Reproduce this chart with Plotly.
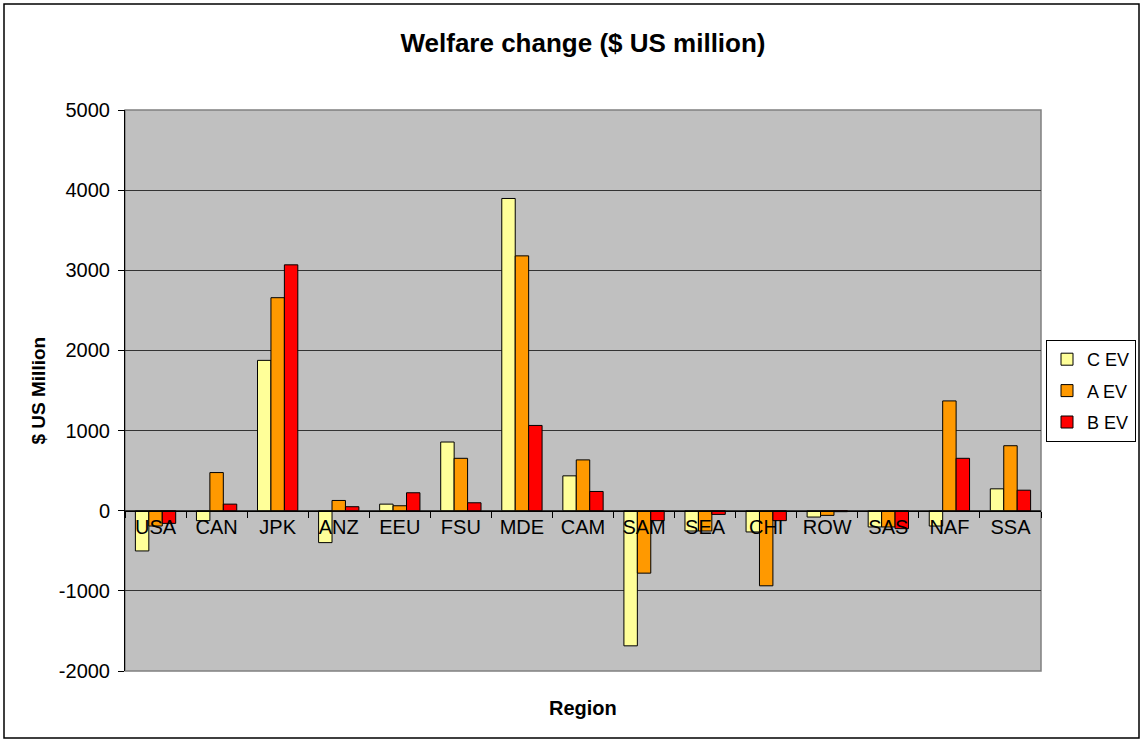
import plotly.graph_objects as go

regions = ["USA", "CAN", "JPK", "ANZ", "EEU", "FSU", "MDE", "CAM",
           "SAM", "SEA", "CHI", "ROW", "SAS", "NAF", "SSA"]
c_ev = [-502, -124, 1876, -398, 82, 857, 3896, 435,
        -1686, -253, -265, -79, -203, -191, 273]
a_ev = [-191, 476, 2658, 128, 62, 654, 3180, 634,
        -779, -253, -937, -58, -203, 1370, 811]
b_ev = [-158, 82, 3068, 50, 224, 99, 1064, 240,
        -124, -46, -124, -12, -224, 654, 256]
y_ticks = [-2000, -1000, 0, 1000, 2000, 3000, 4000, 5000]

series = [("C EV", c_ev, "#FFFF99"), ("A EV", a_ev, "#FF9900"), ("B EV", b_ev, "#FF0000")]

W, H = 1143, 742
L, R, T, B = 125, 102, 110, 71
y_min, y_max = y_ticks[0], y_ticks[-1]

fig = go.Figure()
for name, vals, col in series:
    fig.add_trace(go.Bar(
        x=regions, y=vals, name=name, legendgroup=name,
        marker=dict(color=col, line=dict(color="#000000", width=1)),
    ))

pw, ph = W - L - R, H - T - B
zero_pos = (0 - y_min) / (y_max - y_min)

fig.update_layout(
    width=W, height=H,
    margin=dict(l=L, r=R, t=T, b=B, autoexpand=False),
    paper_bgcolor="white",
    plot_bgcolor="#C0C0C0",
    barmode="group", bargap=0.34, bargroupgap=0,
    font=dict(family="Liberation Sans, Arial, sans-serif", size=20, color="#000000"),
    title=dict(text="<b>Welfare change ($ US million)</b>", x=(125 + 1041) / 2 / W,
               xanchor="center", y=1 - 43 / H, yanchor="middle", font=dict(size=26)),
    xaxis=dict(
        anchor="free", position=zero_pos, layer="above traces",
        showline=True, linecolor="#000000", linewidth=1,
        ticks="outside", ticklen=6, tickcolor="#000000", tickson="boundaries",
        showgrid=False, tickfont=dict(size=20), ticklabelstandoff=-2,
        range=[-0.5, len(regions) - 0.5],
    ),
    yaxis=dict(
        range=[y_min, y_max], tickvals=y_ticks, ticktext=[str(v) for v in y_ticks],
        showline=True, linecolor="#000000", linewidth=1,
        ticks="outside", ticklen=6, tickcolor="#000000", ticklabelstandoff=4,
        showgrid=True, gridcolor="#333333", gridwidth=1,
        zeroline=False, tickfont=dict(size=20),
    ),
    legend=dict(
        x=(1046 - L) / pw, xanchor="left", y=(H - B - 391) / ph, yanchor="middle",
        bgcolor="white", bordercolor="#000000", borderwidth=1,
        font=dict(size=18), itemwidth=30, tracegroupgap=5,
    ),
    showlegend=True,
)

# axis titles
fig.add_annotation(text="<b>Region</b>", xref="paper", yref="paper",
                   x=0.5, y=-(708 - (T + ph)) / ph, showarrow=False,
                   font=dict(size=20), xanchor="center", yanchor="middle")
fig.add_annotation(text="<b>$ US Million</b>", xref="paper", yref="paper",
                   x=-(L - 38) / pw, y=0.5, textangle=-90, showarrow=False,
                   font=dict(size=19), xanchor="center", yanchor="middle")

# plot-area frame and outer chart border
fig.add_shape(type="rect", xref="paper", yref="paper", x0=0, x1=1, y0=0, y1=1,
              line=dict(color="#808080", width=1.5), layer="below")
fig.add_shape(type="rect", xref="paper", yref="paper",
              x0=(4 - L) / pw, x1=(1139 - L) / pw,
              y0=-(738 - (T + ph)) / ph, y1=1 + (T - 4) / ph,
              line=dict(color="#000000", width=1.5))

fig.write_html("out.html")
